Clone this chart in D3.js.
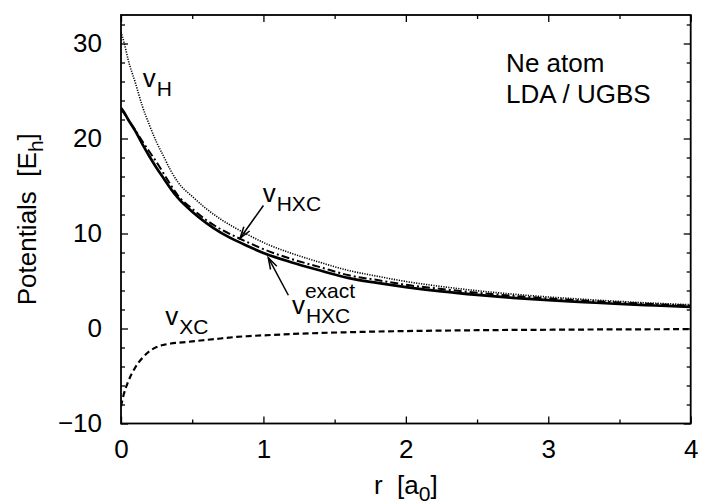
<!DOCTYPE html>
<html>
<head>
<meta charset="utf-8">
<script src="https://cdn.jsdelivr.net/npm/d3@7"></script>
<style>
  body { margin: 0; background: #fff; }
  text { font-family: "Liberation Sans", Arial, Helvetica, sans-serif; fill: #000; }
</style>
</head>
<body>
<script>
var width = 703;
var height = 504;

// radial grid (bohr) shared by all curves
var rGrid = [0, 0.02, 0.05, 0.1, 0.15, 0.2, 0.25, 0.3, 0.35, 0.4, 0.5, 0.6, 0.7, 0.8, 0.9,
             1.0, 1.2, 1.4, 1.6, 1.8, 2.0, 2.25, 2.5, 2.75, 3.0, 3.25, 3.5, 3.75, 4.0];

// Hartree potential (dotted)
var vH = [31.2, 30.2, 28.3, 25.9, 23.4, 21.4, 19.6, 18.1, 16.6, 15.4, 13.9, 12.6, 11.5, 10.6, 9.8,
          9.05, 7.9, 6.95, 6.1, 5.5, 4.95, 4.42, 3.98, 3.62, 3.32, 3.07, 2.85, 2.66, 2.5];

// LDA exchange-correlation potential (dashed)
var vXC = [-8.2, -6.9, -5.6, -4.1, -3.1, -2.4, -1.95, -1.72, -1.58, -1.5, -1.36, -1.2, -1.05, -0.9, -0.8,
           -0.72, -0.58, -0.47, -0.39, -0.32, -0.27, -0.22, -0.18, -0.15, -0.13, -0.11, -0.09, -0.08, -0.07];

// LDA Hartree-exchange-correlation potential (dash-dot)
var vHXC = [23.0, 22.7, 22.0, 20.9, 19.7, 18.6, 17.5, 16.3, 15.1, 14.0, 12.6, 11.4, 10.45, 9.7, 9.0,
            8.35, 7.3, 6.45, 5.6, 5.1, 4.6, 4.16, 3.76, 3.44, 3.17, 2.94, 2.74, 2.56, 2.41];

// exact Hartree-exchange-correlation potential (solid)
var vHXCexact = [23.2, 22.8, 22.0, 20.8, 19.4, 18.1, 16.9, 15.8, 14.7, 13.75, 12.3, 11.1, 10.1, 9.3, 8.6,
                 7.95, 6.95, 6.1, 5.3, 4.8, 4.36, 3.9, 3.53, 3.23, 2.98, 2.78, 2.58, 2.42, 2.27];

var xTicks = [0, 1, 2, 3, 4];
var xMinor = [0.5, 1.5, 2.5, 3.5];
var yTicks = [-10, 0, 10, 20, 30];
var yMinor = [-8, -6, -4, -2, 2, 4, 6, 8, 12, 14, 16, 18, 22, 24, 26, 28, 32];

var svg = d3.select("body")
    .append("svg")
    .attr("width", width)
    .attr("height", height);

var plotLeft = 121, plotRight = 690.7, plotTop = 15, plotBottom = 423.5;

var x = d3.scaleLinear().domain([0, 4]).range([plotLeft, plotRight]);
var y = d3.scaleLinear().domain([-10, 33]).range([plotBottom, plotTop]);

svg.append("clipPath").attr("id", "clip")
    .append("rect")
    .attr("x", plotLeft).attr("y", plotTop)
    .attr("width", plotRight - plotLeft).attr("height", plotBottom - plotTop);

function line(values) {
    return d3.line()
        .x(function(d, i) { return x(rGrid[i]); })
        .y(function(d) { return y(d); })
        .curve(d3.curveMonotoneX)(values);
}

var curves = svg.append("g").attr("clip-path", "url(#clip)");

curves.append("path").attr("d", line(vH))
    .attr("fill", "none").attr("stroke", "#000")
    .attr("stroke-width", 1.6).attr("stroke-dasharray", "1.2,1.3");

curves.append("path").attr("d", line(vHXC))
    .attr("fill", "none").attr("stroke", "#000")
    .attr("stroke-width", 2).attr("stroke-dasharray", "8,3,2,3");

curves.append("path").attr("d", line(vHXCexact))
    .attr("fill", "none").attr("stroke", "#000")
    .attr("stroke-width", 2.7);

curves.append("path").attr("d", line(vXC))
    .attr("fill", "none").attr("stroke", "#000")
    .attr("stroke-width", 2.2).attr("stroke-dasharray", "6,3.5");

// axes, gnuplot style: ticks inward and mirrored
function styleAxis(g) {
    g.select(".domain").remove();
    g.selectAll(".tick line").attr("stroke", "#000").attr("stroke-width", 1.3);
    g.selectAll(".tick text").style("font-size", "26px").attr("fill", "#000");
}

svg.append("g").attr("transform", "translate(0," + plotBottom + ")")
    .call(d3.axisBottom(x).tickValues(xTicks).tickSize(-7).tickPadding(16).tickFormat(d3.format("d")))
    .call(styleAxis);
svg.append("g").attr("transform", "translate(0," + plotBottom + ")")
    .call(d3.axisBottom(x).tickValues(xMinor).tickSize(-4).tickFormat(""))
    .call(styleAxis);
svg.append("g").attr("transform", "translate(0," + plotTop + ")")
    .call(d3.axisTop(x).tickValues(xTicks).tickSize(-7).tickFormat(""))
    .call(styleAxis);
svg.append("g").attr("transform", "translate(0," + plotTop + ")")
    .call(d3.axisTop(x).tickValues(xMinor).tickSize(-4).tickFormat(""))
    .call(styleAxis);

svg.append("g").attr("transform", "translate(" + plotLeft + ",0)")
    .call(d3.axisLeft(y).tickValues(yTicks).tickSize(-7).tickPadding(19))
    .call(styleAxis);
svg.append("g").attr("transform", "translate(" + plotLeft + ",0)")
    .call(d3.axisLeft(y).tickValues(yMinor).tickSize(-4).tickFormat(""))
    .call(styleAxis);
svg.append("g").attr("transform", "translate(" + plotRight + ",0)")
    .call(d3.axisRight(y).tickValues(yTicks).tickSize(-7).tickFormat(""))
    .call(styleAxis);
svg.append("g").attr("transform", "translate(" + plotRight + ",0)")
    .call(d3.axisRight(y).tickValues(yMinor).tickSize(-4).tickFormat(""))
    .call(styleAxis);

svg.append("rect")
    .attr("x", plotLeft).attr("y", plotTop)
    .attr("width", plotRight - plotLeft).attr("height", plotBottom - plotTop)
    .attr("fill", "none").attr("stroke", "#000").attr("stroke-width", 1.8);

// axis titles
var xt = svg.append("text")
    .attr("x", (plotLeft + plotRight) / 2).attr("y", 494)
    .attr("text-anchor", "middle").style("font-size", "26px");
xt.append("tspan").text("r\u00a0 [a");
xt.append("tspan").attr("dy", 7).style("font-size", "21px").text("0");
xt.append("tspan").attr("dy", -7).text("]");

var yt = svg.append("text")
    .attr("transform", "translate(36," + ((plotTop + plotBottom) / 2) + ") rotate(-90)")
    .attr("text-anchor", "middle").style("font-size", "26px");
yt.append("tspan").text("Potentials\u00a0 [E");
yt.append("tspan").attr("dy", 7).style("font-size", "21px").text("h");
yt.append("tspan").attr("dy", -7).text("]");

// v with subscript / superscript, placed in data coordinates
function vLabel(r, v, sub, sup) {
    var px = x(r), py = y(v);
    svg.append("text").attr("x", px).attr("y", py).style("font-size", "26px").text("v");
    svg.append("text").attr("x", px + 14).attr("y", py + 9).style("font-size", "21px").text(sub);
    if (sup) {
        svg.append("text").attr("x", px + 13).attr("y", py - 16).style("font-size", "21px").text(sup);
    }
}

vLabel(0.152, 25.4, "H");
vLabel(0.995, 13.3, "HXC");
vLabel(1.2, 1.55, "HXC", "exact");
vLabel(0.31, 0.35, "XC");

function arrow(r0, v0, r1, v1) {
    var x0 = x(r0), y0 = y(v0), x1 = x(r1), y1 = y(v1);
    var a = Math.atan2(y1 - y0, x1 - x0);
    var len = 12, spread = 0.3;
    svg.append("line")
        .attr("x1", x0).attr("y1", y0).attr("x2", x1).attr("y2", y1)
        .attr("stroke", "#000").attr("stroke-width", 1.5);
    svg.append("path")
        .attr("d", "M" + (x1 - len * Math.cos(a - spread)) + "," + (y1 - len * Math.sin(a - spread)) +
                   "L" + x1 + "," + y1 +
                   "L" + (x1 - len * Math.cos(a + spread)) + "," + (y1 - len * Math.sin(a + spread)))
        .attr("fill", "none").attr("stroke", "#000").attr("stroke-width", 1.5);
}

arrow(1.0, 12.95, 0.836, 9.5);
arrow(1.175, 3.5, 1.034, 7.45);

svg.append("text").attr("x", x(2.704)).attr("y", y(27.0)).style("font-size", "26px").text("Ne atom");
svg.append("text").attr("x", x(2.704)).attr("y", y(23.7)).style("font-size", "26px").text("LDA / UGBS");
</script>
</body>
</html>
